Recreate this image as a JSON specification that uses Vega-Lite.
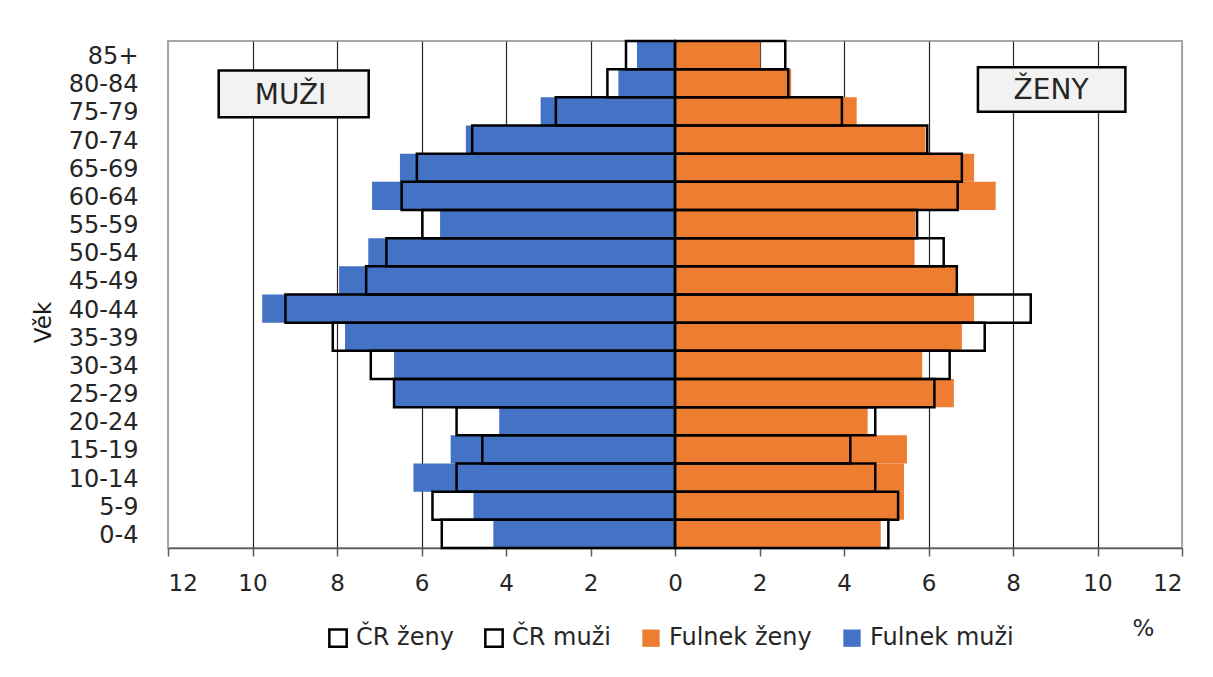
{
  "$schema": "https://vega.github.io/schema/vega-lite/v6.json",
  "width": 1014,
  "height": 507,
  "autosize": {"type": "none"},
  "padding": {"left": 168, "top": 41, "right": 31, "bottom": 129},
  "background": "white",
  "config": {
    "font": "DejaVu Sans",
    "view": {"stroke": "#a6a6a6", "strokeWidth": 2}
  },
  "datasets": {
    "bars": [
      {"age": "85+", "series": "Fulnek muži", "value": -0.90},
      {"age": "80-84", "series": "Fulnek muži", "value": -1.34},
      {"age": "75-79", "series": "Fulnek muži", "value": -3.18},
      {"age": "70-74", "series": "Fulnek muži", "value": -4.95},
      {"age": "65-69", "series": "Fulnek muži", "value": -6.51},
      {"age": "60-64", "series": "Fulnek muži", "value": -7.17},
      {"age": "55-59", "series": "Fulnek muži", "value": -5.56},
      {"age": "50-54", "series": "Fulnek muži", "value": -7.26},
      {"age": "45-49", "series": "Fulnek muži", "value": -7.95},
      {"age": "40-44", "series": "Fulnek muži", "value": -9.77},
      {"age": "35-39", "series": "Fulnek muži", "value": -7.81},
      {"age": "30-34", "series": "Fulnek muži", "value": -6.65},
      {"age": "25-29", "series": "Fulnek muži", "value": -6.63},
      {"age": "20-24", "series": "Fulnek muži", "value": -4.16},
      {"age": "15-19", "series": "Fulnek muži", "value": -5.31},
      {"age": "10-14", "series": "Fulnek muži", "value": -6.19},
      {"age": "5-9", "series": "Fulnek muži", "value": -4.77},
      {"age": "0-4", "series": "Fulnek muži", "value": -4.30},
      {"age": "85+", "series": "Fulnek ženy", "value": 2.02},
      {"age": "80-84", "series": "Fulnek ženy", "value": 2.75},
      {"age": "75-79", "series": "Fulnek ženy", "value": 4.30},
      {"age": "70-74", "series": "Fulnek ženy", "value": 5.93},
      {"age": "65-69", "series": "Fulnek ženy", "value": 7.08},
      {"age": "60-64", "series": "Fulnek ženy", "value": 7.59},
      {"age": "55-59", "series": "Fulnek ženy", "value": 5.69},
      {"age": "50-54", "series": "Fulnek ženy", "value": 5.67},
      {"age": "45-49", "series": "Fulnek ženy", "value": 6.65},
      {"age": "40-44", "series": "Fulnek ženy", "value": 7.08},
      {"age": "35-39", "series": "Fulnek ženy", "value": 6.79},
      {"age": "30-34", "series": "Fulnek ženy", "value": 5.85},
      {"age": "25-29", "series": "Fulnek ženy", "value": 6.60},
      {"age": "20-24", "series": "Fulnek ženy", "value": 4.56},
      {"age": "15-19", "series": "Fulnek ženy", "value": 5.49},
      {"age": "10-14", "series": "Fulnek ženy", "value": 5.42},
      {"age": "5-9", "series": "Fulnek ženy", "value": 5.42},
      {"age": "0-4", "series": "Fulnek ženy", "value": 4.87},
      {"age": "85+", "series": "ČR muži", "value": -1.16},
      {"age": "80-84", "series": "ČR muži", "value": -1.60},
      {"age": "75-79", "series": "ČR muži", "value": -2.82},
      {"age": "70-74", "series": "ČR muži", "value": -4.80},
      {"age": "65-69", "series": "ČR muži", "value": -6.11},
      {"age": "60-64", "series": "ČR muži", "value": -6.47},
      {"age": "55-59", "series": "ČR muži", "value": -5.98},
      {"age": "50-54", "series": "ČR muži", "value": -6.83},
      {"age": "45-49", "series": "ČR muži", "value": -7.31},
      {"age": "40-44", "series": "ČR muži", "value": -9.22},
      {"age": "35-39", "series": "ČR muži", "value": -8.10},
      {"age": "30-34", "series": "ČR muži", "value": -7.20},
      {"age": "25-29", "series": "ČR muži", "value": -6.65},
      {"age": "20-24", "series": "ČR muži", "value": -5.17},
      {"age": "15-19", "series": "ČR muži", "value": -4.56},
      {"age": "10-14", "series": "ČR muži", "value": -5.17},
      {"age": "5-9", "series": "ČR muži", "value": -5.74},
      {"age": "0-4", "series": "ČR muži", "value": -5.52},
      {"age": "85+", "series": "ČR ženy", "value": 2.61},
      {"age": "80-84", "series": "ČR ženy", "value": 2.68},
      {"age": "75-79", "series": "ČR ženy", "value": 3.95},
      {"age": "70-74", "series": "ČR ženy", "value": 5.97},
      {"age": "65-69", "series": "ČR ženy", "value": 6.79},
      {"age": "60-64", "series": "ČR ženy", "value": 6.69},
      {"age": "55-59", "series": "ČR ženy", "value": 5.73},
      {"age": "50-54", "series": "ČR ženy", "value": 6.36},
      {"age": "45-49", "series": "ČR ženy", "value": 6.67},
      {"age": "40-44", "series": "ČR ženy", "value": 8.42},
      {"age": "35-39", "series": "ČR ženy", "value": 7.33},
      {"age": "30-34", "series": "ČR ženy", "value": 6.50},
      {"age": "25-29", "series": "ČR ženy", "value": 6.14},
      {"age": "20-24", "series": "ČR ženy", "value": 4.74},
      {"age": "15-19", "series": "ČR ženy", "value": 4.15},
      {"age": "10-14", "series": "ČR ženy", "value": 4.74},
      {"age": "5-9", "series": "ČR ženy", "value": 5.28},
      {"age": "0-4", "series": "ČR ženy", "value": 5.05}
    ],
    "boxes": [
      {"label": "MUŽI", "x1": -10.80, "x2": -7.25, "y1": 1.05, "y2": 2.71, "tx": -9.1, "ty": 1.95},
      {"label": "ŽENY", "x1": 7.17, "x2": 10.66, "y1": 0.93, "y2": 2.51, "tx": 8.9, "ty": 1.76}
    ]
  },
  "layer": [
    {
      "data": {"name": "bars"},
      "mark": {"type": "bar", "strokeWidth": 2.5, "strokeJoin": "miter"},
      "encoding": {
        "y": {
          "field": "age",
          "type": "nominal",
          "sort": ["85+", "80-84", "75-79", "70-74", "65-69", "60-64", "55-59", "50-54", "45-49", "40-44", "35-39", "30-34", "25-29", "20-24", "15-19", "10-14", "5-9", "0-4"],
          "scale": {"paddingInner": 0, "paddingOuter": 0},
          "axis": {
            "title": "Věk",
            "titleFontSize": 23,
            "titleFontWeight": "normal",
            "titleColor": "#1a1a1a",
            "titleX": -125,
            "titleY": 281,
            "titleAngle": -90,
            "titleAlign": "center",
            "titleBaseline": "middle",
            "labelFontSize": 24,
            "labelColor": "#262626",
            "labelPadding": 30,
            "labelOffset": 2,
            "ticks": false,
            "domain": false,
            "grid": false
          }
        },
        "x": {
          "field": "value",
          "type": "quantitative",
          "stack": null,
          "scale": {"domain": [-12, 12], "nice": false, "zero": false},
          "axis": {
            "values": [-12, -10, -8, -6, -4, -2, 0, 2, 4, 6, 8, 10, 12],
            "labelExpr": "abs(datum.value)",
            "labelFontSize": 23,
            "labelColor": "#262626",
            "labelPadding": 16,
            "tickSize": 8,
            "tickWidth": 1.5,
            "tickColor": "#595959",
            "domainColor": "#595959",
            "domainWidth": 1.5,
            "grid": true,
            "gridColor": {"condition": {"test": "abs(datum.value) == 12", "value": "#a6a6a6"}, "value": "#262626"},
            "gridWidth": 1.2,
            "title": "%",
            "titleFontSize": 23,
            "titleFontWeight": "normal",
            "titleColor": "#262626",
            "titleX": 975,
            "titleY": 80,
            "titleAlign": "center",
            "titleBaseline": "middle"
          }
        },
        "fill": {
          "field": "series",
          "type": "nominal",
          "scale": {
            "domain": ["ČR ženy", "ČR muži", "Fulnek ženy", "Fulnek muži"],
            "range": ["transparent", "transparent", "#ED7D31", "#4472C4"]
          },
          "legend": {
            "orient": "none",
            "legendX": 158,
            "legendY": 585,
            "direction": "horizontal",
            "title": null,
            "symbolType": "square",
            "symbolSize": 300,
            "symbolStrokeWidth": 2.5,
            "labelFontSize": 24,
            "labelColor": "#262626",
            "labelOffset": 6,
            "columnPadding": 26,
            "padding": 0
          }
        },
        "stroke": {
          "field": "series",
          "type": "nominal",
          "scale": {
            "domain": ["ČR ženy", "ČR muži", "Fulnek ženy", "Fulnek muži"],
            "range": ["black", "black", "transparent", "transparent"]
          },
          "legend": {
            "orient": "none",
            "legendX": 158,
            "legendY": 585,
            "direction": "horizontal",
            "title": null,
            "symbolType": "square",
            "symbolSize": 300,
            "symbolStrokeWidth": 2.5,
            "labelFontSize": 24,
            "labelColor": "#262626",
            "labelOffset": 6,
            "columnPadding": 26,
            "padding": 0
          }
        }
      }
    },
    {
      "data": {"name": "boxes"},
      "layer": [
        {
          "mark": {"type": "rect", "fill": "#f2f2f2", "stroke": "black", "strokeWidth": 2.5},
          "encoding": {
            "x": {"field": "x1", "type": "quantitative"},
            "x2": {"field": "x2"},
            "y": {"field": "y1", "type": "quantitative", "scale": {"domain": [0, 18], "reverse": true, "nice": false, "zero": false}, "axis": null},
            "y2": {"field": "y2"}
          }
        },
        {
          "mark": {"type": "text", "fontSize": 28, "color": "#262626", "align": "center", "baseline": "middle"},
          "encoding": {
            "x": {"field": "tx", "type": "quantitative"},
            "y": {"field": "ty", "type": "quantitative"},
            "text": {"field": "label"}
          }
        }
      ]
    }
  ],
  "resolve": {"scale": {"y": "independent"}}
}
